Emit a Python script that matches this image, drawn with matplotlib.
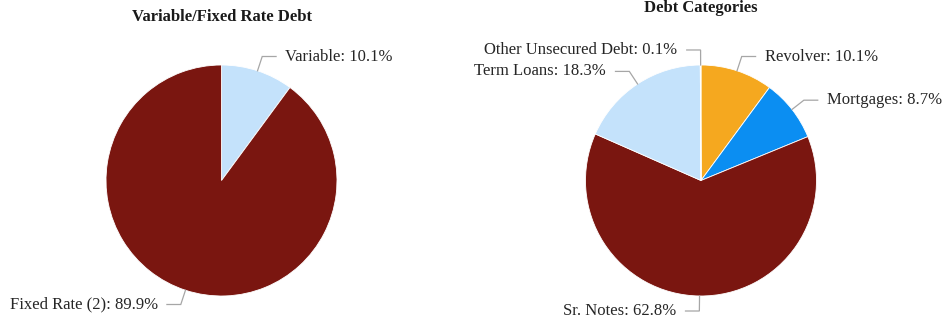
import numpy as np
import matplotlib
matplotlib.use("Agg")
import matplotlib.pyplot as plt

plt.rcParams['font.family'] = ['Liberation Serif', 'DejaVu Serif']

# Variable / fixed split
rate_labels = ["Variable", "Fixed Rate (2)"]
rate_values = [10.1, 89.9]
rate_colors = ["#C4E2FB", "#7A1610"]

# Debt categories
cat_labels = ["Revolver", "Mortgages", "Sr. Notes", "Term Loans", "Other Unsecured Debt"]
cat_values = [10.1, 8.7, 62.8, 18.3, 0.1]
cat_colors = ["#F5A81F", "#0B8EF2", "#7A1610", "#C4E2FB", "#9AA5B1"]

W, H = 948, 329
fig = plt.figure(figsize=(W / 100, H / 100), dpi=100)

RADIUS_PX = 115.5


def pie_panel(cx, cy, title, title_y, labels, values, colors):
    # axes sized so that one data unit equals the pie radius
    half_w, half_h = 2.2, 1.6
    aw = 2 * half_w * RADIUS_PX / W
    ah = 2 * half_h * RADIUS_PX / H
    ax = fig.add_axes([cx / W - aw / 2, 1 - cy / H - ah / 2, aw, ah])
    wedges, _ = ax.pie(values, colors=colors, startangle=90, counterclock=False,
                       radius=1.0, center=(0, 0), frame=True,
                       wedgeprops=dict(edgecolor='white', linewidth=0.6))
    ax.set_xlim(-half_w, half_w)
    ax.set_ylim(-half_h, half_h)
    ax.set_aspect('equal')
    ax.axis('off')

    R = 1.13
    for w, lab, val in zip(wedges, labels, values):
        mid = np.deg2rad((w.theta1 + w.theta2) / 2)
        ex, ey = np.cos(mid), np.sin(mid)
        ly = R * ey
        side = 1 if ex >= 0 else -1
        lx_circle = side * np.sqrt(max(R ** 2 - ly ** 2, 0.0))
        elbow_x = lx_circle
        end_x = lx_circle + side * 0.12
        text_x = lx_circle + side * 0.2
        ax.plot([ex, elbow_x, end_x], [ey, ly, ly], color='#A6A6A6', lw=0.9,
                solid_joinstyle='miter', clip_on=False)
        ax.text(text_x, ly, f"{lab}: {val:.1f}%", ha='left' if side > 0 else 'right',
                va='center', fontsize=12, color='#262626', clip_on=False)

    fig.text(cx / W, 1 - title_y / H, title, ha='center', va='center',
             fontsize=12, fontweight='bold', color='#1a1a1a')


pie_panel(221.5, 180.5, "Variable/Fixed Rate Debt", 17, rate_labels, rate_values, rate_colors)
pie_panel(701, 180.5, "Debt Categories", 8, cat_labels, cat_values, cat_colors)

fig.savefig("out.png", dpi=100)
